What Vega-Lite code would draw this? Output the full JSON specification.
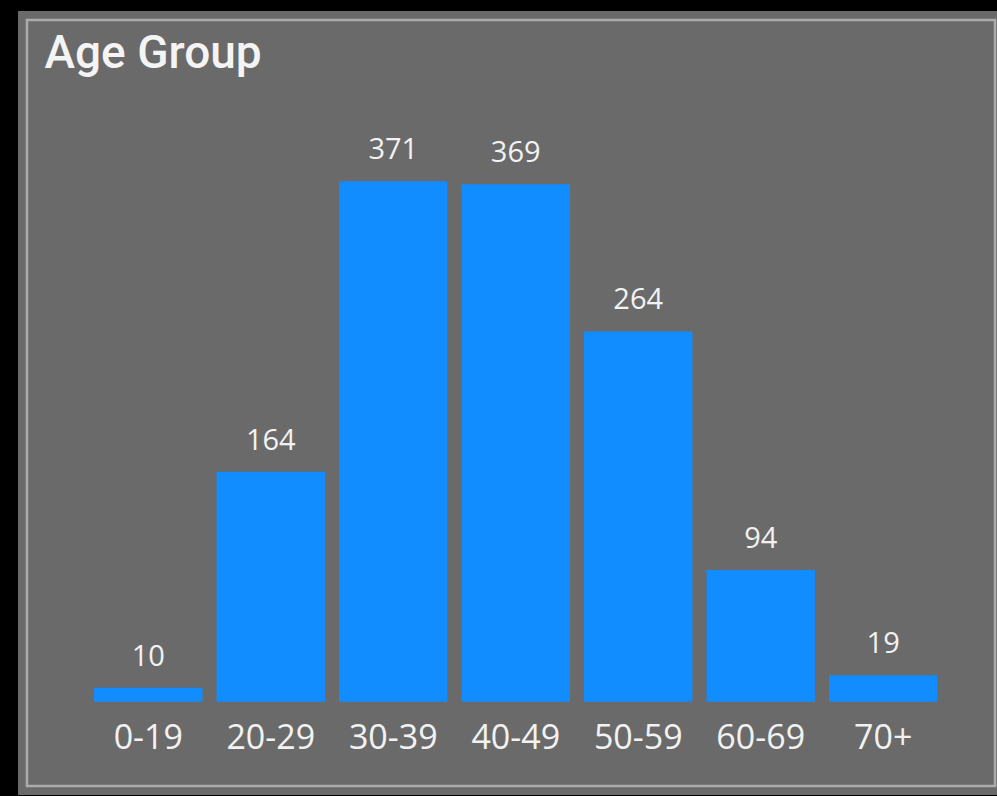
{
  "$schema": "https://vega.github.io/schema/vega-lite/v6.json",
  "autosize": "none",
  "width": 968,
  "height": 766,
  "padding": {"left": 27, "top": 20, "right": 2, "bottom": 10},
  "background": "#000000",
  "view": {"fill": "#6a6a6a", "stroke": "#6a6a6a", "strokeWidth": 18},
  "config": {"font": "Open Sans"},
  "resolve": {"scale": {"x": "independent", "y": "independent"}},
  "layer": [
    {
      "data": {"values": [{}]},
      "mark": {"type": "rect", "filled": false, "stroke": "#ababab", "strokeWidth": 2.5},
      "encoding": {}
    },
    {
      "data": {
        "values": [
          {"age": "0-19", "count": 10},
          {"age": "20-29", "count": 164},
          {"age": "30-39", "count": 371},
          {"age": "40-49", "count": 369},
          {"age": "50-59", "count": 264},
          {"age": "60-69", "count": 94},
          {"age": "70+", "count": 19}
        ]
      },
      "encoding": {
        "x": {
          "field": "age",
          "type": "nominal",
          "sort": null,
          "scale": {"paddingInner": 0.115, "paddingOuter": 0.509, "align": 0.538},
          "axis": {
            "title": null,
            "orient": "bottom",
            "offset": -38,
            "domain": false,
            "ticks": false,
            "grid": false,
            "labelPadding": 0,
            "labelBaseline": "alphabetic",
            "labelAngle": 0,
            "labelFont": "Open Sans",
            "labelFontSize": 34,
            "labelColor": "#f2f2f2"
          }
        },
        "y": {
          "field": "count",
          "type": "quantitative",
          "scale": {"domain": [-60, 486], "nice": false, "zero": false},
          "axis": {
            "title": "Age Group",
            "orient": "left",
            "labels": false,
            "ticks": false,
            "domain": false,
            "grid": false,
            "titleAngle": 0,
            "titleX": 17,
            "titleY": 47,
            "titleAlign": "left",
            "titleBaseline": "alphabetic",
            "titleFont": "Roboto",
            "titleFontSize": 46,
            "titleFontWeight": 500,
            "titleColor": "#f4f4f4"
          }
        }
      },
      "layer": [
        {
          "mark": {"type": "bar", "color": "#118dff"},
          "encoding": {"y2": {"datum": 0}}
        },
        {
          "mark": {
            "type": "text",
            "baseline": "alphabetic",
            "dy": -22,
            "font": "Open Sans",
            "fontSize": 29,
            "color": "#f2f2f2"
          },
          "encoding": {"text": {"field": "count", "type": "quantitative"}}
        }
      ]
    }
  ]
}
